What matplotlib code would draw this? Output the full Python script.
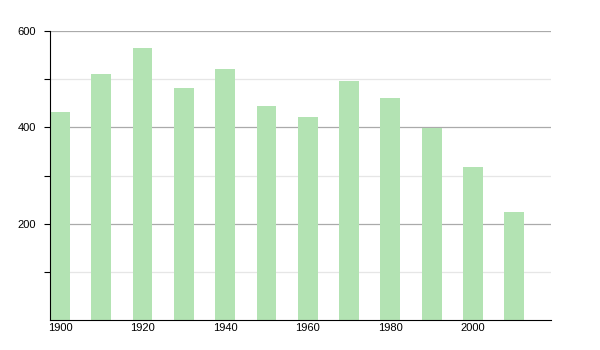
import matplotlib
matplotlib.use('Agg')
import matplotlib.pyplot as plt

plt.rcParams['font.family'] = ['Liberation Sans', 'DejaVu Sans']

years = [1900, 1910, 1920, 1930, 1940, 1950, 1960, 1970, 1980, 1990, 2000, 2010]
values = [432, 511, 565, 482, 521, 444, 421, 496, 460, 399, 317, 224]
xtick_labels = [1900, 1920, 1940, 1960, 1980, 2000]
ytick_major = [200, 400, 600]
ytick_minor = [100, 300, 500]

fig = plt.figure(figsize=(6, 3.5), dpi=100)
ax = fig.add_axes([50 / 600, 30 / 350, 501 / 600, 289 / 350])

ax.bar(years, values, width=4.8, color='#b3e3b3', zorder=2)

ax.set_xlim(1897.6, 2018.9)
ax.set_ylim(0, 600)

ax.set_yticks(ytick_major)
ax.set_yticks(ytick_minor, minor=True)
ax.set_xticks(xtick_labels)

ax.yaxis.grid(True, which='major', color='#aaaaaa', linewidth=0.9, zorder=1)
ax.yaxis.grid(True, which='minor', color='#e6e6e6', linewidth=0.9, zorder=1)
ax.set_axisbelow(True)

for spine in ['top', 'right']:
    ax.spines[spine].set_visible(False)
ax.spines['left'].set_color('black')
ax.spines['bottom'].set_color('black')

ax.tick_params(axis='y', which='both', direction='out', length=4, width=0.8,
               labelsize=8, pad=6)
ax.tick_params(axis='x', length=0, labelsize=8, pad=2)

fig.savefig('out.png', dpi=100)
